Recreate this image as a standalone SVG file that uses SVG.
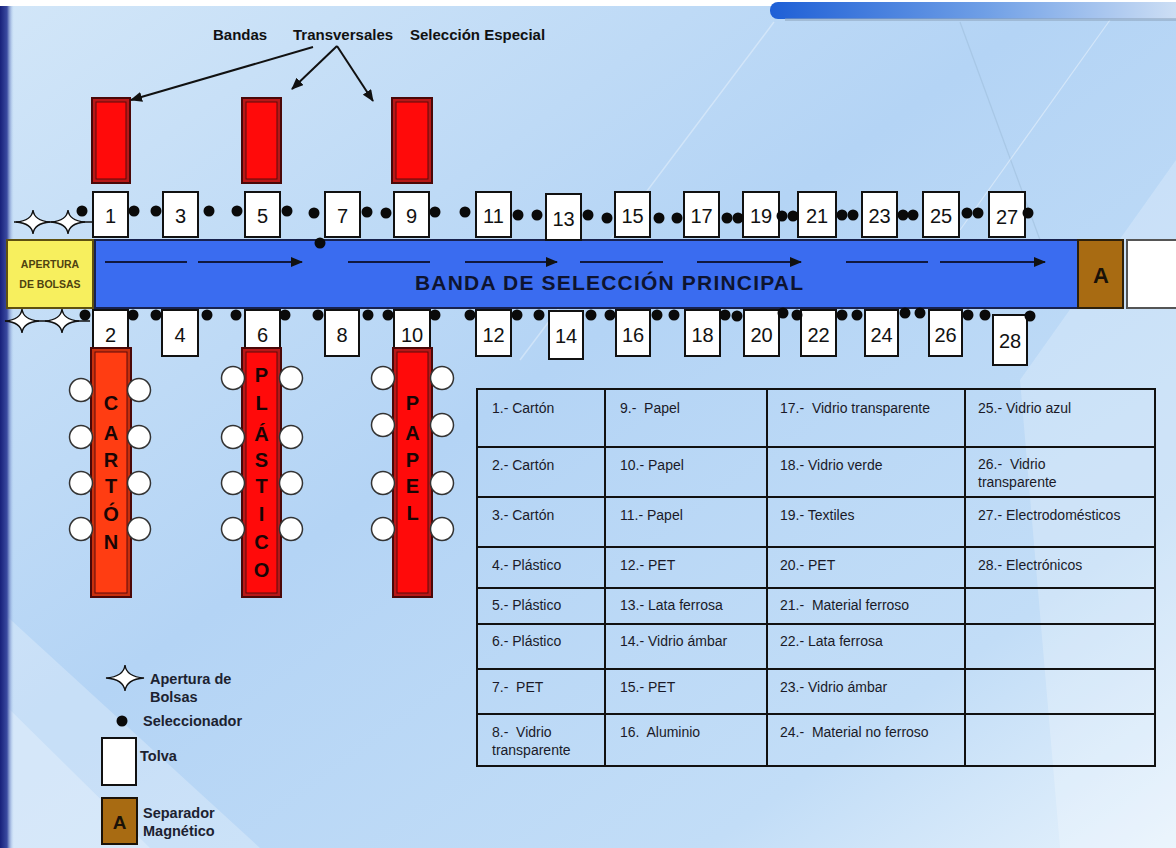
<svg xmlns="http://www.w3.org/2000/svg" xmlns:xlink="http://www.w3.org/1999/xlink" width="1176" height="848" viewBox="0 0 1176 848">
<defs>
<linearGradient id="bg" x1="0" y1="0" x2="1" y2="1">
<stop offset="0" stop-color="#d2e6f8"/>
<stop offset="0.45" stop-color="#b4d4f5"/>
<stop offset="0.8" stop-color="#c2ddf7"/>
<stop offset="1" stop-color="#e6f2fc"/>
</linearGradient>
<linearGradient id="leftbar" x1="0" y1="0" x2="1" y2="0">
<stop offset="0" stop-color="#17207a"/>
<stop offset="0.5" stop-color="#3a4aa0"/>
<stop offset="1" stop-color="#b6d5f5" stop-opacity="0"/>
</linearGradient>
<linearGradient id="topbar" x1="0" y1="0" x2="1" y2="0">
<stop offset="0" stop-color="#1e5fd6"/>
<stop offset="0.5" stop-color="#6f9fe6"/>
<stop offset="1" stop-color="#d8e6f6"/>
</linearGradient>
<marker id="ah" viewBox="0 0 12 10" refX="11" refY="5" markerWidth="6" markerHeight="5" orient="auto">
<path d="M0,0 L12,5 L0,10 Z" fill="#111"/>
</marker>
<path id="star" d="M-17,0 Q-1.2,-1.2 0,-12 Q1.2,-1.2 17,0 Q1.2,1.2 0,12 Q-1.2,1.2 -17,0Z" fill="#fff" stroke="#111" stroke-width="1.4"/>
</defs>
<style>
.box{fill:#fff;stroke:#111;stroke-width:2}
.num{font-family:"Liberation Sans",Arial,sans-serif;font-size:20px;fill:#111;text-anchor:middle}
.dot{fill:#0a0a0a}
.lbl{font-family:"Liberation Sans",Arial,sans-serif;font-weight:bold;font-size:15px;fill:#111}
.leg{font-family:"Liberation Sans",Arial,sans-serif;font-weight:bold;font-size:14.5px;fill:#1c2230}
.cell{font-family:"Liberation Sans",Arial,sans-serif;font-size:14px;fill:#1a1a28}
.vlet{font-family:"Liberation Sans",Arial,sans-serif;font-weight:bold;font-size:20px;fill:#1a0505;text-anchor:middle}
.roll{fill:#fff;stroke:#333;stroke-width:1.5}
.redo{fill:#b81818;stroke:#4a0808;stroke-width:2}
.redi{fill:#ff0a0a;stroke:#5a0a0a;stroke-width:1}
.orao{fill:#c8300e;stroke:#4a0808;stroke-width:2}
.orai{fill:#ff3d12;stroke:#5a0a0a;stroke-width:1}
.conn{stroke:#111;stroke-width:2;fill:none}
.belt{stroke:#101840;stroke-width:2;fill:none}
.grid{stroke:#111;stroke-width:2;fill:none}
</style>

<!-- background -->
<rect x="0" y="0" width="1176" height="848" fill="url(#bg)"/>
<polygon points="0,610 260,848 0,848" fill="#ffffff" opacity="0.25"/>
<polygon points="0,700 150,848 0,848" fill="#ffffff" opacity="0.25"/>
<polygon points="1020,380 1176,160 1176,848 1060,848" fill="#ffffff" opacity="0.22"/>
<line x1="774" y1="22" x2="520" y2="360" stroke="#ffffff" stroke-width="1.5" opacity="0.35"/>
<line x1="960" y1="22" x2="1040" y2="240" stroke="#9bbbd8" stroke-width="1.2" opacity="0.5"/>
<line x1="1110" y1="20" x2="960" y2="230" stroke="#ffffff" stroke-width="1.2" opacity="0.4"/>
<rect x="0" y="0" width="1176" height="6" fill="#ffffff"/>
<rect x="0" y="6" width="14" height="842" fill="url(#leftbar)"/>
<rect x="770" y="2" width="430" height="17" rx="8" fill="url(#topbar)"/>
<rect x="785" y="18" width="391" height="3" fill="#8aa0b8" opacity="0.5"/>

<!-- top labels -->
<g id="labels">
<text class="lbl" x="213" y="40">Bandas</text>
<text class="lbl" x="293" y="40">Transversales</text>
<text class="lbl" x="410" y="40">Selección Especial</text>
</g>

<!-- top red transversal bands -->
<g id="band-top-1"><rect class="redo" x="92" y="98" width="38" height="85"/><rect class="redi" x="96" y="102" width="30" height="77"/></g>
<g id="band-top-2"><rect class="redo" x="242" y="98" width="39" height="85"/><rect class="redi" x="246" y="102" width="31" height="77"/></g>
<g id="band-top-3"><rect class="redo" x="392" y="98" width="40" height="85"/><rect class="redi" x="396" y="102" width="32" height="77"/></g>

<!-- main belt -->
<g id="belt">
<rect x="95" y="240" width="983" height="68" fill="#3a6cf0" stroke="#18224e" stroke-width="2"/>
<text x="415" y="290" textLength="388" lengthAdjust="spacing" style="font-family:'Liberation Sans',Arial,sans-serif;font-weight:bold;font-size:21px;fill:#0e1430">BANDA DE SELECCIÓN PRINCIPAL</text>
</g>
<g id="apertura">
<rect x="7" y="240" width="86" height="68" fill="#f7ef5e" stroke="#5e5010" stroke-width="2"/>
<text x="50" y="268" text-anchor="middle" style="font-family:'Liberation Sans',Arial,sans-serif;font-weight:bold;font-size:10.5px;fill:#4e4210">APERTURA</text>
<text x="50" y="288" text-anchor="middle" style="font-family:'Liberation Sans',Arial,sans-serif;font-weight:bold;font-size:10.5px;fill:#4e4210">DE BOLSAS</text>
</g>
<g id="separador">
<rect x="1078" y="240" width="45" height="68" fill="#a86b12" stroke="#2e200a" stroke-width="2"/>
<text x="1101" y="283" text-anchor="middle" style="font-family:'Liberation Sans',Arial,sans-serif;font-weight:bold;font-size:22px;fill:#1a1208">A</text>
</g>
<g id="salida"><rect x="1127" y="240" width="52" height="68" fill="#ffffff" stroke="#555" stroke-width="2"/></g>

<!-- connectors -->
<g id="connectors">
<line class="conn" x1="313" y1="47" x2="131" y2="100" marker-end="url(#ah)"/>
<line class="conn" x1="337" y1="46" x2="292" y2="89" marker-end="url(#ah)"/>
<line class="conn" x1="337" y1="46" x2="373" y2="101" marker-end="url(#ah)"/>
<line class="belt" x1="105" y1="262" x2="187" y2="262"/>
<line class="belt" x1="198" y1="262" x2="302" y2="262" marker-end="url(#ah)"/>
<line class="belt" x1="348" y1="262" x2="430" y2="262"/>
<line class="belt" x1="465" y1="262" x2="557" y2="262" marker-end="url(#ah)"/>
<line class="belt" x1="580" y1="262" x2="663" y2="262"/>
<line class="belt" x1="697" y1="262" x2="801" y2="262" marker-end="url(#ah)"/>
<line class="belt" x1="846" y1="262" x2="928" y2="262"/>
<line class="belt" x1="940" y1="262" x2="1045" y2="262" marker-end="url(#ah)"/>
</g>

<!-- stars (apertura de bolsas) -->
<g id="stars-top">
<line x1="14" y1="222" x2="92" y2="222" stroke="#111" stroke-width="1.4"/>
<use xlink:href="#star" x="33" y="222"/>
<use xlink:href="#star" x="68" y="222"/>
</g>
<g id="stars-bottom">
<line x1="5" y1="321" x2="90" y2="321" stroke="#111" stroke-width="1.4"/>
<use xlink:href="#star" x="22" y="321"/>
<use xlink:href="#star" x="62" y="321"/>
</g>

<!-- top hoppers -->
<g id="t1"><rect class="box" x="93" y="192" width="35" height="45"/><text class="num" x="110.5" y="223">1</text></g>
<g id="t3"><rect class="box" x="163" y="192" width="35" height="45"/><text class="num" x="180.5" y="223">3</text></g>
<g id="t5"><rect class="box" x="245" y="192" width="35" height="45"/><text class="num" x="262.5" y="223">5</text></g>
<g id="t7"><rect class="box" x="325" y="192" width="35" height="45"/><text class="num" x="342.5" y="223">7</text></g>
<g id="t9"><rect class="box" x="394" y="192" width="35" height="45"/><text class="num" x="411.5" y="223">9</text></g>
<g id="t11"><rect class="box" x="476" y="192" width="35" height="45"/><text class="num" x="493.5" y="223">11</text></g>
<g id="t13"><rect class="box" x="546" y="194" width="35" height="46"/><text class="num" x="563.5" y="226">13</text></g>
<g id="t15"><rect class="box" x="615" y="192" width="35" height="45"/><text class="num" x="632.5" y="223">15</text></g>
<g id="t17"><rect class="box" x="684" y="192" width="35" height="45"/><text class="num" x="701.5" y="223">17</text></g>
<g id="t19"><rect class="box" x="743" y="192" width="36" height="45"/><text class="num" x="761" y="223">19</text></g>
<g id="t21"><rect class="box" x="798" y="192" width="38" height="45"/><text class="num" x="817" y="223">21</text></g>
<g id="t23"><rect class="box" x="862" y="192" width="35" height="45"/><text class="num" x="879.5" y="223">23</text></g>
<g id="t25"><rect class="box" x="923" y="192" width="36" height="45"/><text class="num" x="941" y="223">25</text></g>
<g id="t27"><rect class="box" x="989" y="192" width="36" height="45"/><text class="num" x="1007" y="224">27</text></g>

<!-- bottom hoppers -->
<g id="b2"><rect class="box" x="93" y="310" width="35" height="40"/><text class="num" x="110.5" y="342">2</text></g>
<g id="b4"><rect class="box" x="162" y="310" width="36" height="46"/><text class="num" x="180" y="342">4</text></g>
<g id="b6"><rect class="box" x="245" y="310" width="35" height="40"/><text class="num" x="262.5" y="342">6</text></g>
<g id="b8"><rect class="box" x="325" y="310" width="34" height="46"/><text class="num" x="342" y="342">8</text></g>
<g id="b10"><rect class="box" x="394" y="310" width="36" height="40"/><text class="num" x="412" y="342">10</text></g>
<g id="b12"><rect class="box" x="476" y="310" width="35" height="46"/><text class="num" x="493.5" y="342">12</text></g>
<g id="b14"><rect class="box" x="549" y="311" width="34" height="48"/><text class="num" x="566" y="343">14</text></g>
<g id="b16"><rect class="box" x="616" y="310" width="34" height="46"/><text class="num" x="633" y="342">16</text></g>
<g id="b18"><rect class="box" x="685" y="310" width="35" height="46"/><text class="num" x="702.5" y="342">18</text></g>
<g id="b20"><rect class="box" x="744" y="310" width="35" height="46"/><text class="num" x="761.5" y="342">20</text></g>
<g id="b22"><rect class="box" x="801" y="310" width="35" height="46"/><text class="num" x="818.5" y="342">22</text></g>
<g id="b24"><rect class="box" x="865" y="310" width="33" height="46"/><text class="num" x="881.5" y="342">24</text></g>
<g id="b26"><rect class="box" x="929" y="310" width="33" height="46"/><text class="num" x="945.5" y="342">26</text></g>
<g id="b28"><rect class="box" x="993" y="315" width="34" height="50"/><text class="num" x="1010" y="348">28</text></g>

<!-- selectors -->
<g id="selectors">
<circle class="dot" cx="320" cy="243" r="5.5"/>
<circle class="dot" cx="82" cy="211" r="5.5"/><circle class="dot" cx="134" cy="211" r="5.5"/><circle class="dot" cx="156" cy="211" r="5.5"/><circle class="dot" cx="209" cy="211" r="5.5"/><circle class="dot" cx="237" cy="211" r="5.5"/><circle class="dot" cx="287" cy="211" r="5.5"/><circle class="dot" cx="314" cy="213" r="5.5"/><circle class="dot" cx="367" cy="212" r="5.5"/><circle class="dot" cx="386" cy="213" r="5.5"/><circle class="dot" cx="435" cy="212" r="5.5"/><circle class="dot" cx="465" cy="212" r="5.5"/><circle class="dot" cx="518" cy="215" r="5.5"/><circle class="dot" cx="537" cy="215" r="5.5"/><circle class="dot" cx="588" cy="215" r="5.5"/><circle class="dot" cx="607" cy="218" r="5.5"/><circle class="dot" cx="659" cy="218" r="5.5"/><circle class="dot" cx="677" cy="218" r="5.5"/><circle class="dot" cx="727" cy="218" r="5.5"/><circle class="dot" cx="738" cy="218" r="5.5"/><circle class="dot" cx="782" cy="216" r="5.5"/><circle class="dot" cx="793" cy="216" r="5.5"/><circle class="dot" cx="842" cy="215" r="5.5"/><circle class="dot" cx="853" cy="215" r="5.5"/><circle class="dot" cx="903" cy="215" r="5.5"/><circle class="dot" cx="913" cy="215" r="5.5"/><circle class="dot" cx="967" cy="213" r="5.5"/><circle class="dot" cx="978" cy="213" r="5.5"/><circle class="dot" cx="1028" cy="213" r="5.5"/>
<circle class="dot" cx="85" cy="315" r="5.5"/><circle class="dot" cx="133" cy="315" r="5.5"/><circle class="dot" cx="156" cy="315" r="5.5"/><circle class="dot" cx="207" cy="315" r="5.5"/><circle class="dot" cx="236" cy="315" r="5.5"/><circle class="dot" cx="285" cy="315" r="5.5"/><circle class="dot" cx="318" cy="315" r="5.5"/><circle class="dot" cx="368" cy="315" r="5.5"/><circle class="dot" cx="388" cy="315" r="5.5"/><circle class="dot" cx="435" cy="315" r="5.5"/><circle class="dot" cx="470" cy="315" r="5.5"/><circle class="dot" cx="517" cy="315" r="5.5"/><circle class="dot" cx="539" cy="315" r="5.5"/><circle class="dot" cx="591" cy="315" r="5.5"/><circle class="dot" cx="610" cy="315" r="5.5"/><circle class="dot" cx="657" cy="315" r="5.5"/><circle class="dot" cx="674" cy="315" r="5.5"/><circle class="dot" cx="725" cy="315" r="5.5"/><circle class="dot" cx="737" cy="316" r="5.5"/><circle class="dot" cx="783" cy="313" r="5.5"/><circle class="dot" cx="797" cy="315" r="5.5"/><circle class="dot" cx="842" cy="315" r="5.5"/><circle class="dot" cx="857" cy="315" r="5.5"/><circle class="dot" cx="905" cy="313" r="5.5"/><circle class="dot" cx="920" cy="313" r="5.5"/><circle class="dot" cx="968" cy="315" r="5.5"/><circle class="dot" cx="985" cy="315" r="5.5"/><circle class="dot" cx="1030" cy="316" r="5.5"/>
</g>

<!-- vertical bands -->
<g id="band-carton">
<rect class="orao" x="91" y="348" width="40" height="249"/><rect class="orai" x="95" y="352" width="32" height="241"/>
<circle class="roll" cx="81" cy="390" r="11.5"/><circle class="roll" cx="139" cy="390" r="11.5"/>
<circle class="roll" cx="81" cy="437" r="11.5"/><circle class="roll" cx="139" cy="437" r="11.5"/>
<circle class="roll" cx="81" cy="483" r="11.5"/><circle class="roll" cx="139" cy="483" r="11.5"/>
<circle class="roll" cx="81" cy="529" r="11.5"/><circle class="roll" cx="139" cy="529" r="11.5"/>
<text class="vlet" x="111" y="410">C</text><text class="vlet" x="111" y="440">A</text><text class="vlet" x="111" y="467">R</text><text class="vlet" x="111" y="493">T</text><text class="vlet" x="111" y="521">Ó</text><text class="vlet" x="111" y="549">N</text>
</g>
<g id="band-plastico">
<rect class="redo" x="242" y="348" width="39" height="249"/><rect class="redi" x="246" y="352" width="31" height="241"/>
<circle class="roll" cx="233" cy="378" r="11.5"/><circle class="roll" cx="291" cy="378" r="11.5"/>
<circle class="roll" cx="233" cy="437" r="11.5"/><circle class="roll" cx="291" cy="437" r="11.5"/>
<circle class="roll" cx="233" cy="483" r="11.5"/><circle class="roll" cx="291" cy="483" r="11.5"/>
<circle class="roll" cx="233" cy="529" r="11.5"/><circle class="roll" cx="291" cy="529" r="11.5"/>
<text class="vlet" x="261.5" y="382">P</text><text class="vlet" x="261.5" y="410">L</text><text class="vlet" x="261.5" y="441">Á</text><text class="vlet" x="261.5" y="467">S</text><text class="vlet" x="261.5" y="493">T</text><text class="vlet" x="261.5" y="521">I</text><text class="vlet" x="261.5" y="549">C</text><text class="vlet" x="261.5" y="577">O</text>
</g>
<g id="band-papel">
<rect class="redo" x="393" y="348" width="39" height="249"/><rect class="redi" x="397" y="352" width="31" height="241"/>
<circle class="roll" cx="383" cy="378" r="11.5"/><circle class="roll" cx="442" cy="378" r="11.5"/>
<circle class="roll" cx="383" cy="425" r="11.5"/><circle class="roll" cx="442" cy="425" r="11.5"/>
<circle class="roll" cx="383" cy="483" r="11.5"/><circle class="roll" cx="442" cy="483" r="11.5"/>
<circle class="roll" cx="383" cy="529" r="11.5"/><circle class="roll" cx="442" cy="529" r="11.5"/>
<text class="vlet" x="412.5" y="410">P</text><text class="vlet" x="412.5" y="440">A</text><text class="vlet" x="412.5" y="467">P</text><text class="vlet" x="412.5" y="493">E</text><text class="vlet" x="412.5" y="520">L</text>
</g>

<!-- table -->
<g id="table">
<rect class="grid" x="477" y="389" width="678" height="377"/>
<path class="grid" d="M605,389V766M767,389V766M965,389V766M477,447H1155M477,497H1155M477,547H1155M477,588H1155M477,624H1155M477,669H1155M477,714H1155"/>
<text class="cell" x="492" y="413">1.- Cartón</text>
<text class="cell" x="620" y="413">9.-&#160; Papel</text>
<text class="cell" x="780" y="413">17.-&#160; Vidrio transparente</text>
<text class="cell" x="978" y="413">25.- Vidrio azul</text>
<text class="cell" x="492" y="470">2.- Cartón</text>
<text class="cell" x="620" y="470">10.- Papel</text>
<text class="cell" x="780" y="470">18.- Vidrio verde</text>
<text class="cell" x="978" y="469">26.-&#160; Vidrio</text>
<text class="cell" x="978" y="487">transparente</text>
<text class="cell" x="492" y="520">3.- Cartón</text>
<text class="cell" x="620" y="520">11.- Papel</text>
<text class="cell" x="780" y="520">19.- Textiles</text>
<text class="cell" x="978" y="520">27.- Electrodomésticos</text>
<text class="cell" x="492" y="570">4.- Plástico</text>
<text class="cell" x="620" y="570">12.- PET</text>
<text class="cell" x="780" y="570">20.- PET</text>
<text class="cell" x="978" y="570">28.- Electrónicos</text>
<text class="cell" x="492" y="610">5.- Plástico</text>
<text class="cell" x="620" y="610">13.- Lata ferrosa</text>
<text class="cell" x="780" y="610">21.-&#160; Material ferroso</text>
<text class="cell" x="492" y="646">6.- Plástico</text>
<text class="cell" x="620" y="646">14.- Vidrio ámbar</text>
<text class="cell" x="780" y="646">22.- Lata ferrosa</text>
<text class="cell" x="492" y="692">7.-&#160; PET</text>
<text class="cell" x="620" y="692">15.- PET</text>
<text class="cell" x="780" y="692">23.- Vidrio ámbar</text>
<text class="cell" x="492" y="737">8.-&#160; Vidrio</text>
<text class="cell" x="492" y="755">transparente</text>
<text class="cell" x="620" y="737">16.&#160; Aluminio</text>
<text class="cell" x="780" y="737">24.-&#160; Material no ferroso</text>
</g>

<!-- legend -->
<g id="legend-star">
<path d="M-19,0 Q-1.3,-1.3 0,-13 Q1.3,-1.3 19,0 Q1.3,1.3 0,13 Q-1.3,1.3 -19,0Z" transform="translate(125,678)" fill="#fff" stroke="#111" stroke-width="1.4"/>
<text class="leg" x="150" y="684">Apertura de</text>
<text class="leg" x="150" y="702">Bolsas</text>
</g>
<g id="legend-dot">
<circle class="dot" cx="122" cy="721" r="5.5"/>
<text class="leg" x="143" y="726">Seleccionador</text>
</g>
<g id="legend-tolva">
<rect class="box" x="102" y="738" width="34" height="47"/>
<text class="leg" x="140" y="761">Tolva</text>
</g>
<g id="legend-separador">
<rect x="102" y="798" width="35" height="46" fill="#a86b12" stroke="#1a1208" stroke-width="2"/>
<text x="119.5" y="829" text-anchor="middle" style="font-family:'Liberation Sans',Arial,sans-serif;font-weight:bold;font-size:19px;fill:#1a1208">A</text>
<text class="leg" x="143" y="818">Separador</text>
<text class="leg" x="143" y="836">Magnético</text>
</g>
</svg>
